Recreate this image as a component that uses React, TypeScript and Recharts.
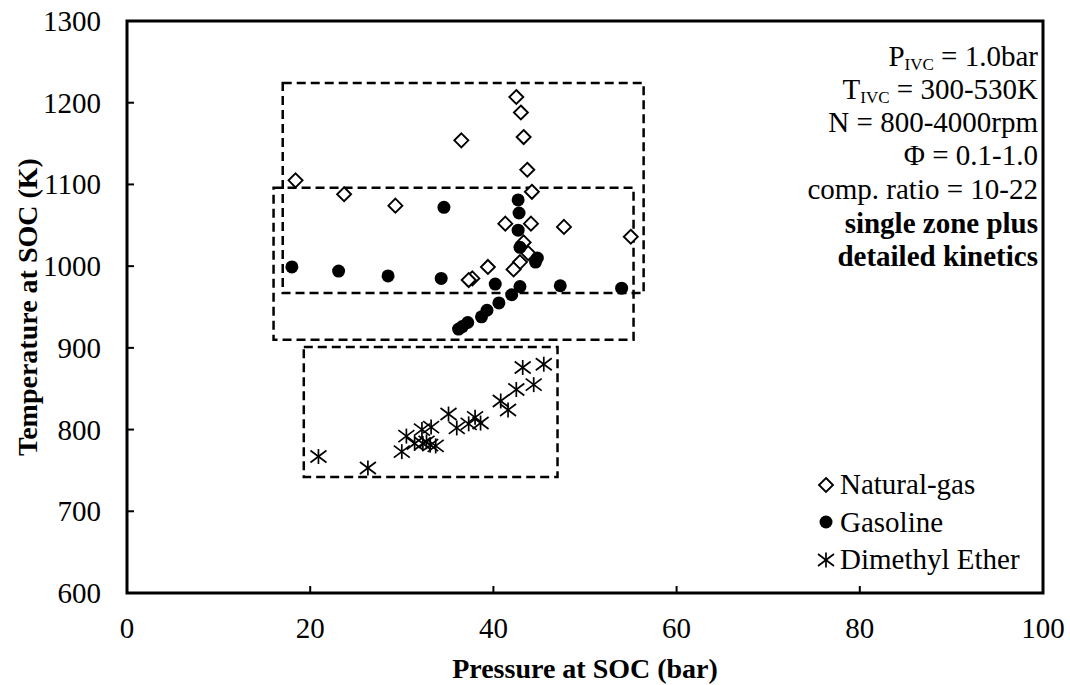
import React from "react";
import { ScatterChart, Scatter, XAxis, YAxis, ReferenceArea, Legend } from "recharts";

const FONT = "Liberation Serif, Tinos, Times New Roman, DejaVu Serif, serif";

const xTicks = [0, 20, 40, 60, 80, 100];
const yTicks = [600, 700, 800, 900, 1000, 1100, 1200, 1300];

// [pressure at SOC (bar), temperature at SOC (K)]
const naturalGas = [
  [42.5, 1207], [43.0, 1188], [36.5, 1154], [43.3, 1158], [43.7, 1118],
  [18.4, 1105], [23.7, 1088], [29.3, 1074], [44.2, 1091], [41.3, 1052],
  [44.1, 1052], [47.7, 1048], [55.0, 1036], [43.3, 1029], [43.8, 1016],
  [42.9, 1005], [39.4, 999], [42.2, 996], [37.7, 985], [37.3, 983],
];
const gasoline = [
  [42.7, 1081], [42.8, 1065], [34.6, 1072], [42.7, 1044], [42.9, 1023],
  [44.8, 1010], [44.6, 1005], [18.0, 999], [23.1, 994], [28.5, 988],
  [34.3, 985], [40.2, 978], [42.9, 975], [47.3, 976], [54.0, 973],
  [42.0, 965], [40.6, 955], [39.3, 946], [38.7, 938], [37.2, 931],
  [36.6, 926], [36.2, 923],
];
const dimethylEther = [
  [20.9, 767], [26.3, 753], [30.0, 773], [30.5, 792], [31.4, 783],
  [32.2, 800], [32.3, 783], [32.7, 785], [33.2, 803], [33.1, 781],
  [33.7, 780], [35.1, 819], [36.0, 802], [37.3, 807], [38.0, 815],
  [38.6, 808], [40.8, 835], [41.6, 824], [42.5, 849], [44.4, 855],
  [43.2, 876], [45.5, 880],
];

// dashed regions: [p from, p to, T from, T to]
const regionBoxes = [
  [17.0, 56.4, 967, 1224],
  [16.0, 55.3, 910, 1096],
  [19.3, 47.0, 742, 901],
];

const seriesNames = ["Natural-gas", "Gasoline", "Dimethyl Ether"];

const toPoints = (rows: number[][]) => rows.map(([p, t]) => ({ p, t }));

function Diamond({ cx, cy }: any) {
  const r = 7;
  return (
    <polygon
      points={`${cx},${cy - r} ${cx + r},${cy} ${cx},${cy + r} ${cx - r},${cy}`}
      fill="#fff"
      stroke="#000"
      strokeWidth={1.9}
    />
  );
}

function Dot({ cx, cy }: any) {
  return <circle cx={cx} cy={cy} r={6.5} fill="#000" />;
}

function Star({ cx, cy }: any) {
  const w = 8;
  const h = 7.5;
  return (
    <g stroke="#000" strokeWidth={1.7}>
      <line x1={cx} y1={cy - h} x2={cx} y2={cy + h} />
      <line x1={cx - w} y1={cy - h * 0.8} x2={cx + w} y2={cy + h * 0.8} />
      <line x1={cx - w} y1={cy + h * 0.8} x2={cx + w} y2={cy - h * 0.8} />
    </g>
  );
}

const markers = [Diamond, Dot, Star];

function XTick({ x, y, payload }: any) {
  return (
    <g>
      <line x1={x} y1={y} x2={x} y2={y - 7} stroke="#000" strokeWidth={2} />
      <text x={x} y={y + 45} textAnchor="middle" fontSize={29} style={{ fontFamily: FONT }} fill="#000">
        {payload.value}
      </text>
    </g>
  );
}

function YTick({ x, y, payload }: any) {
  return (
    <g>
      <line x1={x} y1={y} x2={x + 7} y2={y} stroke="#000" strokeWidth={2} />
      <text x={x - 26} y={y + 10} textAnchor="end" fontSize={29} style={{ fontFamily: FONT }} fill="#000">
        {payload.value}
      </text>
    </g>
  );
}

function LegendBox() {
  return (
    <div style={{ fontFamily: FONT, fontSize: 29, color: "#000" }}>
      {seriesNames.map((name, i) => {
        const M = markers[i];
        return (
          <div key={name} style={{ display: "flex", alignItems: "center", height: 37.5, whiteSpace: "nowrap" }}>
            <svg width={18} height={18} style={{ marginRight: 5 }}>
              <M cx={9} cy={9} />
            </svg>
            <span>{name}</span>
          </div>
        );
      })}
    </div>
  );
}

function Notes() {
  const x = 1038;
  const base = { fontSize: 29, fill: "#000", textAnchor: "end" as const, style: { fontFamily: FONT } };
  return (
    <svg width={1070} height={685} style={{ position: "absolute", left: 0, top: 0, pointerEvents: "none" }}>
      <text x={x} y={66} {...base}>
        P<tspan fontSize={17} dy={4}>IVC</tspan>
        <tspan dy={-4}> = 1.0bar</tspan>
      </text>
      <text x={x} y={99} {...base}>
        T<tspan fontSize={17} dy={4}>IVC</tspan>
        <tspan dy={-4}> = 300-530K</tspan>
      </text>
      <text x={x} y={132} {...base}>N = 800-4000rpm</text>
      <text x={x} y={165} {...base}>Φ = 0.1-1.0</text>
      <text x={x} y={199} {...base}>comp. ratio = 10-22</text>
      <text x={x} y={233} {...base} fontWeight="bold">single zone plus</text>
      <text x={x} y={266} {...base} fontWeight="bold">detailed kinetics</text>
    </svg>
  );
}

export default function App() {
  return (
    <div style={{ position: "absolute", left: 0, top: 0, width: 1070, height: 685, background: "#fff", fontFamily: FONT }}>
      <ScatterChart width={1070} height={685} margin={{ top: 21, right: 27, bottom: 0, left: 0 }}>
        <XAxis
          type="number"
          dataKey="p"
          domain={[0, 100]}
          ticks={xTicks}
          height={92}
          axisLine={false}
          tickLine={false}
          tickSize={0}
          tickMargin={0}
          tick={<XTick />}
          interval={0}
          label={(props: any) => {
            const vb = props.viewBox || { x: 127, y: 593, width: 916 };
            return (
              <text x={vb.x + vb.width / 2} y={vb.y + 85} textAnchor="middle" fontSize={28} fontWeight="bold" style={{ fontFamily: FONT }} fill="#000">
                Pressure at SOC (bar)
              </text>
            );
          }}
        />
        <YAxis
          type="number"
          dataKey="t"
          domain={[600, 1300]}
          ticks={yTicks}
          width={127}
          axisLine={false}
          tickLine={false}
          tickSize={0}
          tickMargin={0}
          tick={<YTick />}
          interval={0}
          label={(props: any) => {
            const vb = props.viewBox || { x: 0, y: 21, height: 572 };
            const cy = vb.y + vb.height / 2;
            return (
              <text x={27} y={cy} transform={`rotate(-90, 27, ${cy})`} textAnchor="middle" dominantBaseline="central" fontSize={28} fontWeight="bold" style={{ fontFamily: FONT }} fill="#000">
                Temperature at SOC (K)
              </text>
            );
          }}
        />
        {regionBoxes.map(([p1, p2, t1, t2], i) => (
          <ReferenceArea
            key={i}
            x1={p1}
            x2={p2}
            y1={t1}
            y2={t2}
            fill="none"
            fillOpacity={0}
            stroke="#000"
            strokeWidth={2.5}
            strokeDasharray="9 5"
          />
        ))}
        <ReferenceArea x1={0} x2={100} y1={600} y2={1300} fill="none" fillOpacity={0} stroke="#000" strokeWidth={3} />
        <Scatter name={seriesNames[0]} data={toPoints(naturalGas)} shape={Diamond} isAnimationActive={false} />
        <Scatter name={seriesNames[1]} data={toPoints(gasoline)} shape={Dot} isAnimationActive={false} />
        <Scatter name={seriesNames[2]} data={toPoints(dimethylEther)} shape={Star} isAnimationActive={false} />
        <Legend
          layout="vertical"
          align="center"
          verticalAlign="middle"
          wrapperStyle={{ left: 817, top: 466, width: 240 }}
          content={() => <LegendBox />}
        />
      </ScatterChart>
      <Notes />
    </div>
  );
}
